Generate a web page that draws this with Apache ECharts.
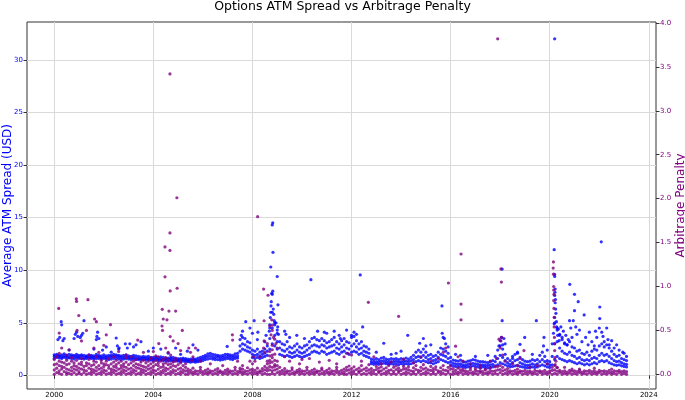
<!DOCTYPE html>
<html>
<head>
<meta charset="utf-8">
<script src="https://cdn.jsdelivr.net/npm/echarts@6/dist/echarts.min.js"></script>
<style>
  html, body { margin: 0; padding: 0; background: #fff; }
  #chart { width: 685px; height: 400px; }
</style>
</head>
<body>
<div id="chart"></div>
<script>
// tick labels
var yearTicks = [2000, 2004, 2008, 2012, 2016, 2020, 2024]
var spreadTicks = [0, 5, 10, 15, 20, 25, 30]
var penaltyTicks = [0, 0.5, 1, 1.5, 2, 2.5, 3, 3.5, 4]

// average ATM spread: main band, [year, value, value, ...]
var spreadBand = [
  [2000.0,1.6,1.8,1.95],[2000.1,1.7,1.85,2.0],[2000.2,1.65,1.8,1.9],[2000.3,1.6,1.75,1.95],[2000.4,1.7,1.85,2.05],
  [2000.5,1.6,1.8,1.9],[2000.6,1.65,1.75,2.0],[2000.7,1.6,1.8,1.95],[2000.8,1.55,1.75,1.9],[2000.9,1.65,1.8,2.0],
  [2001.0,1.6,1.75,1.9],[2001.1,1.6,1.8,1.95],[2001.2,1.55,1.7,1.9],[2001.3,1.6,1.75,1.85],[2001.4,1.65,1.8,1.95],
  [2001.5,1.6,1.75,1.9],[2001.6,1.55,1.7,1.85],[2001.7,1.6,1.8,2.0],[2001.8,1.6,1.75,1.9],[2001.9,1.55,1.7,1.85],
  [2002.0,1.6,1.75,1.95],[2002.1,1.55,1.7,1.85],[2002.2,1.5,1.7,1.9],[2002.3,1.55,1.75,1.9],[2002.4,1.6,1.8,2.0],
  [2002.5,1.6,1.8,1.95],[2002.6,1.55,1.75,1.9],[2002.7,1.5,1.7,1.85],[2002.8,1.55,1.7,1.9],[2002.9,1.6,1.75,1.95],
  [2003.0,1.55,1.7,1.85],[2003.1,1.5,1.65,1.8],[2003.2,1.55,1.7,1.9],[2003.3,1.5,1.65,1.85],[2003.4,1.5,1.6,1.8],
  [2003.5,1.45,1.6,1.75],[2003.6,1.5,1.65,1.8],[2003.7,1.45,1.6,1.75],[2003.8,1.5,1.6,1.8],[2003.9,1.45,1.55,1.7],
  [2004.0,1.4,1.55,1.7],[2004.1,1.45,1.6,1.75],[2004.2,1.4,1.55,1.7],[2004.3,1.45,1.55,1.75],[2004.4,1.4,1.5,1.7],
  [2004.5,1.4,1.55,1.65],[2004.6,1.35,1.5,1.65],[2004.7,1.4,1.55,1.7],[2004.8,1.35,1.5,1.7],[2004.9,1.4,1.5,1.65],
  [2005.0,1.35,1.45,1.6],[2005.1,1.3,1.45,1.6],[2005.2,1.35,1.5,1.65],[2005.3,1.3,1.45,1.6],[2005.4,1.3,1.4,1.55],
  [2005.5,1.25,1.4,1.55],[2005.6,1.3,1.45,1.6],[2005.7,1.25,1.4,1.55],[2005.8,1.3,1.45,1.65],[2005.9,1.35,1.5,1.7],
  [2006.0,1.4,1.6,1.8],[2006.1,1.5,1.7,1.9],[2006.2,1.55,1.8,2.05],[2006.3,1.6,1.85,2.1],[2006.4,1.55,1.75,2.0],
  [2006.5,1.5,1.7,1.95],[2006.6,1.5,1.75,1.9],[2006.7,1.45,1.65,1.85],[2006.8,1.5,1.7,1.9],[2006.9,1.55,1.75,2.0],
  [2007.0,1.6,1.8,2.0],[2007.1,1.55,1.75,1.95],[2007.2,1.5,1.7,1.9],[2007.3,1.6,1.8,2.05],[2007.4,1.65,1.85,2.1],
  [2007.5,2.3,2.8,3.4],[2007.6,2.5,3.0,3.6],[2007.7,2.4,2.9,3.5],[2007.8,2.3,2.7,3.2],[2007.9,2.2,2.6,3.1],
  [2008.0,1.7,2.0,2.4],[2008.1,1.6,1.9,2.3],[2008.2,1.7,2.0,2.5],[2008.3,1.6,1.85,2.2],[2008.4,1.7,2.0,2.3],
  [2008.5,1.8,2.1,2.5],[2008.6,1.9,2.3,2.8],[2008.7,2.5,3.5,4.5],[2008.8,3.0,4.5,6.0],[2008.9,2.8,3.8,5.0],
  [2009.0,2.5,3.2,4.0],[2009.1,2.0,2.6,3.2],[2009.2,1.9,2.4,3.0],[2009.3,1.8,2.3,2.9],[2009.4,1.9,2.5,3.2],
  [2009.5,1.8,2.2,2.7],[2009.6,1.7,2.1,2.6],[2009.7,1.8,2.2,2.8],[2009.8,1.9,2.4,3.0],[2009.9,1.8,2.2,2.7],
  [2010.0,1.7,2.1,2.6],[2010.1,1.8,2.2,2.8],[2010.2,1.9,2.4,2.9],[2010.3,2.0,2.6,3.2],[2010.4,2.2,2.8,3.5],
  [2010.5,2.3,2.9,3.6],[2010.6,2.2,2.8,3.4],[2010.7,2.1,2.7,3.3],[2010.8,2.3,2.9,3.5],[2010.9,2.2,2.8,3.3],
  [2011.0,2.0,2.6,3.1],[2011.1,2.1,2.7,3.2],[2011.2,2.2,2.8,3.4],[2011.3,2.3,2.9,3.6],[2011.4,2.1,2.6,3.2],
  [2011.5,2.0,2.5,3.0],[2011.6,2.2,2.7,3.3],[2011.7,2.3,2.9,3.5],[2011.8,2.1,2.6,3.2],[2011.9,2.0,2.5,3.1],
  [2012.0,2.2,2.8,3.6],[2012.1,2.3,3.0,3.7],[2012.2,2.2,2.7,3.3],[2012.3,2.0,2.5,3.0],[2012.4,2.1,2.6,3.2],
  [2012.5,1.9,2.3,2.8],[2012.6,1.8,2.2,2.7],[2012.7,1.7,2.1,2.5],[2012.8,1.1,1.3,1.55],[2012.9,1.05,1.25,1.5],
  [2013.0,1.1,1.3,1.6],[2013.1,1.05,1.25,1.5],[2013.2,1.1,1.35,1.65],[2013.3,1.15,1.4,1.7],[2013.4,1.1,1.3,1.55],
  [2013.5,1.05,1.25,1.5],[2013.6,1.1,1.3,1.6],[2013.7,1.05,1.3,1.55],[2013.8,1.1,1.35,1.6],[2013.9,1.0,1.25,1.5],
  [2014.0,1.1,1.3,1.6],[2014.1,1.05,1.3,1.55],[2014.2,1.1,1.35,1.65],[2014.3,1.05,1.3,1.55],[2014.4,1.1,1.4,1.7],
  [2014.5,1.2,1.5,1.9],[2014.6,1.3,1.7,2.2],[2014.7,1.4,1.8,2.4],[2014.8,1.3,1.7,2.2],[2014.9,1.4,1.9,2.5],
  [2015.0,1.3,1.7,2.2],[2015.1,1.2,1.5,1.9],[2015.2,1.2,1.6,2.0],[2015.3,1.1,1.4,1.8],[2015.4,1.2,1.5,1.9],
  [2015.5,1.3,1.7,2.2],[2015.6,1.5,2.0,2.6],[2015.7,1.4,1.9,2.5],[2015.8,1.3,1.8,2.3],[2015.9,1.2,1.6,2.1],
  [2016.0,1.0,1.3,1.7],[2016.1,0.9,1.15,1.45],[2016.2,0.85,1.1,1.4],[2016.3,0.8,1.05,1.35],[2016.4,0.85,1.1,1.45],
  [2016.5,0.8,1.0,1.3],[2016.6,0.75,0.95,1.25],[2016.7,0.8,1.05,1.35],[2016.8,0.85,1.1,1.4],[2016.9,0.9,1.15,1.5],
  [2017.0,0.85,1.1,1.45],[2017.1,0.8,1.05,1.35],[2017.2,0.75,1.0,1.3],[2017.3,0.8,1.0,1.3],[2017.4,0.75,0.95,1.25],
  [2017.5,0.7,0.95,1.2],[2017.6,0.75,1.0,1.3],[2017.7,0.8,1.05,1.4],[2017.8,0.9,1.3,1.8],[2017.9,1.0,1.6,2.4],
  [2018.0,1.2,1.9,2.8],[2018.1,1.1,1.7,2.5],[2018.2,1.0,1.4,2.0],[2018.3,0.9,1.2,1.6],[2018.4,0.8,1.05,1.4],
  [2018.5,0.85,1.2,1.6],[2018.6,0.9,1.4,2.0],[2018.7,0.95,1.5,2.1],[2018.8,0.85,1.2,1.7],[2018.9,0.8,1.1,1.5],
  [2019.0,0.75,1.0,1.35],[2019.1,0.7,0.95,1.3],[2019.2,0.75,1.0,1.35],[2019.3,0.8,1.1,1.5],[2019.4,0.75,1.0,1.4],
  [2019.5,0.8,1.1,1.5],[2019.6,0.9,1.3,1.9],[2019.7,1.0,1.5,2.2],[2019.8,0.9,1.3,1.8],[2019.9,0.8,1.1,1.4],
  [2020.0,0.75,1.0,1.3],[2020.1,1.0,1.8,3.0],[2020.2,1.5,3.0,5.0],[2020.3,1.8,3.2,4.5],[2020.4,1.6,2.6,3.8],
  [2020.5,1.5,2.3,3.4],[2020.6,1.4,2.1,3.0],[2020.7,1.3,2.0,2.9],[2020.8,1.4,2.2,3.2],[2020.9,1.3,1.9,2.7],
  [2021.0,1.2,1.8,2.6],[2021.1,1.1,1.6,2.3],[2021.2,1.2,1.7,2.4],[2021.3,1.1,1.5,2.1],[2021.4,1.0,1.4,2.0],
  [2021.5,1.1,1.5,2.2],[2021.6,1.0,1.4,1.9],[2021.7,1.1,1.6,2.3],[2021.8,1.2,1.7,2.5],[2021.9,1.1,1.6,2.4],
  [2022.0,1.3,1.9,2.8],[2022.1,1.4,2.1,3.0],[2022.2,1.3,1.9,2.7],[2022.3,1.4,2.0,2.9],[2022.4,1.2,1.8,2.6],
  [2022.5,1.1,1.6,2.3],[2022.6,1.0,1.4,2.0],[2022.7,0.95,1.3,1.8],[2022.8,1.0,1.35,1.9],[2022.9,0.9,1.2,1.6],
  [2023.0,0.85,1.1,1.5],[2023.1,0.8,1.05,1.4]
]

// average ATM spread: scattered points away from the band, [year, value]
var spreadExtra = [
  [2000.15,3.4],[2000.22,3.6],[2000.28,5.1],[2000.3,4.8],[2000.35,3.3],[2000.4,3.5],[2000.6,2.4],
  [2000.8,3.5],[2000.85,3.9],[2000.9,4.1],[2000.95,3.7],[2001.05,3.6],[2001.1,3.8],[2001.15,4.0],[2001.2,5.2],
  [2001.6,2.5],[2001.7,3.4],[2001.72,3.7],[2001.75,4.1],[2001.8,3.5],[2001.95,2.4],[2002.1,2.7],[2002.3,2.2],
  [2002.5,3.55],[2002.55,2.8],[2002.6,2.5],[2002.62,2.6],[2002.87,3.0],[2002.95,2.6],[2003.05,3.0],[2003.2,2.7],
  [2003.3,2.9],[2003.5,3.2],[2003.8,2.3],[2004.0,2.6],[2004.3,2.5],[2004.6,2.1],[2004.9,2.6],[2005.1,2.0],
  [2005.37,2.3],[2005.6,2.9],[2005.8,2.4],[2006.98,2.75],[2007.55,3.8],[2007.6,4.2],[2007.73,5.1],[2007.9,4.5],
  [2008.0,4.0],[2008.07,5.2],[2008.2,3.4],[2008.22,4.1],[2008.5,3.2],[2008.55,3.8],
  [2008.68,4.2],[2008.7,4.8],[2008.72,5.5],[2008.74,6.0],[2008.75,6.6],[2008.76,7.0],[2008.78,7.8],[2008.8,7.7],
  [2008.82,8.0],[2008.84,6.3],[2008.86,5.8],[2008.88,5.2],[2008.9,4.8],[2009.03,6.7],[2008.95,5.0],[2009.0,4.3],
  [2009.02,4.6],[2009.05,3.9],[2009.0,9.4],[2008.74,10.3],[2008.83,11.7],[2008.8,14.3],[2008.82,14.5],
  [2009.3,4.2],[2009.35,3.9],[2009.5,3.6],[2009.79,3.8],[2010.1,3.5],[2010.36,9.1],[2010.63,4.2],[2010.9,4.1],
  [2011.0,4.0],[2011.3,4.2],[2011.5,3.8],[2011.55,3.5],[2011.8,4.3],[2012.0,3.8],[2012.1,4.1],[2012.2,3.9],
  [2012.35,9.55],[2012.45,4.6],[2013.0,2.2],[2013.3,3.05],[2013.6,2.0],[2013.8,2.1],[2014.0,2.3],[2014.27,3.8],
  [2014.75,3.05],[2014.9,3.5],[2015.0,2.8],[2015.2,2.9],[2015.65,6.6],[2015.66,4.0],[2015.7,3.6],[2015.75,3.5],
  [2015.8,3.0],[2015.9,2.7],[2016.2,2.0],[2016.4,1.9],[2017.0,1.8],[2017.5,1.9],[2017.95,2.8],[2018.0,3.3],
  [2018.05,3.6],[2018.08,10.1],[2018.08,5.2],[2018.1,2.9],[2018.15,3.5],[2018.2,3.0],[2018.5,1.8],[2018.7,2.2],
  [2018.8,2.95],[2018.99,3.6],[2019.3,2.0],[2019.46,5.2],[2019.75,2.8],[2019.77,3.6],[2019.9,2.4],
  [2020.2,32.0],[2020.18,11.95],[2020.2,9.6],[2020.2,9.4],[2020.22,8.2],[2020.21,7.9],[2020.2,7.6],[2020.23,7.2],
  [2020.22,6.9],[2020.24,6.3],[2020.25,5.9],[2020.2,5.5],[2020.27,5.1],[2020.18,4.9],[2020.28,4.6],[2020.3,4.3],
  [2020.15,4.0],[2020.32,3.8],[2020.35,4.4],[2020.4,3.9],[2020.38,3.3],[2020.45,4.6],[2020.5,3.6],[2020.55,4.2],
  [2020.6,3.1],[2020.65,3.8],[2020.7,2.9],[2020.75,3.4],[2020.81,8.65],[2020.8,5.2],[2020.95,5.2],[2020.85,4.5],
  [2020.9,3.6],[2021.0,7.7],[2021.0,6.15],[2021.05,4.6],[2021.1,3.9],[2021.15,7.0],[2021.2,4.3],[2021.3,3.2],
  [2021.39,5.74],[2021.45,3.6],[2021.55,2.9],[2021.6,4.1],[2021.7,3.2],[2021.8,2.8],[2021.85,4.2],[2021.9,3.6],
  [2022.02,6.5],[2022.02,5.4],[2022.0,4.5],[2022.08,12.7],[2022.1,4.1],[2022.15,3.7],[2022.2,3.2],[2022.3,4.5],
  [2022.35,3.4],[2022.4,2.9],[2022.5,3.3],[2022.6,2.6],[2022.7,2.9],[2022.8,2.4],[2022.95,2.2],[2023.0,2.1],[2023.1,1.8]
]

// arbitrage penalty: main band near zero, [year, value, value, ...]
var penaltyBand = [
  [2000.0,0.0,0.05,0.11,0.17],[2000.1,0.02,0.07,0.12,0.2],[2000.2,0.01,0.04,0.1,0.15,0.24],[2000.3,0.0,0.06,0.09,0.14],
  [2000.4,0.03,0.08,0.13],[2000.5,0.0,0.02,0.06,0.11,0.16],[2000.6,0.01,0.05,0.12],[2000.7,0.0,0.04,0.08,0.15,0.19],
  [2000.8,0.02,0.06,0.1,0.13],[2000.9,0.0,0.05,0.09,0.16],[2001.0,0.01,0.03,0.07,0.12],[2001.1,0.0,0.06,0.11,0.14,0.18],
  [2001.2,0.02,0.05,0.09],[2001.3,0.0,0.04,0.1,0.13],[2001.4,0.01,0.07,0.12,0.17],[2001.5,0.0,0.03,0.06,0.1],
  [2001.6,0.02,0.05,0.11,0.15],[2001.7,0.0,0.04,0.08,0.14,0.2],[2001.8,0.01,0.06,0.1],[2001.9,0.0,0.03,0.07,0.13,0.16],
  [2002.0,0.02,0.05,0.09,0.12],[2002.1,0.0,0.04,0.11,0.15],[2002.2,0.01,0.07,0.1,0.18],[2002.3,0.0,0.03,0.06,0.12],
  [2002.4,0.02,0.05,0.09,0.14],[2002.5,0.0,0.04,0.08,0.11,0.16],[2002.6,0.01,0.06,0.13],[2002.7,0.0,0.03,0.07,0.1,0.15],
  [2002.8,0.02,0.05,0.09,0.12],[2002.9,0.0,0.04,0.08,0.14,0.19],[2003.0,0.01,0.06,0.11],[2003.1,0.0,0.03,0.07,0.13],
  [2003.2,0.02,0.05,0.1,0.15],[2003.3,0.0,0.04,0.08,0.12,0.17],[2003.4,0.01,0.07,0.11],[2003.5,0.0,0.03,0.06,0.1,0.14],
  [2003.6,0.02,0.05,0.09,0.16],[2003.7,0.0,0.04,0.08,0.13],[2003.8,0.01,0.06,0.1,0.15],[2003.9,0.0,0.03,0.07,0.12,0.18],
  [2004.0,0.02,0.05,0.09,0.14],[2004.1,0.0,0.04,0.11,0.16],[2004.2,0.01,0.06,0.1,0.13,0.2],[2004.3,0.0,0.03,0.08,0.15],
  [2004.4,0.02,0.05,0.09,0.12,0.17],[2004.5,0.0,0.04,0.07,0.13,0.19],[2004.6,0.01,0.06,0.11,0.16],[2004.7,0.0,0.03,0.08,0.12,0.22],
  [2004.8,0.02,0.05,0.1,0.14],[2004.9,0.0,0.04,0.09,0.15,0.18],[2005.0,0.01,0.06,0.11],[2005.1,0.0,0.03,0.07,0.13,0.16],
  [2005.2,0.02,0.05,0.1],[2005.3,0.0,0.04,0.08,0.12],
  [2005.4,0.0,0.03,0.06],[2005.5,0.015,0.045],[2005.6,0.0,0.025,0.07],[2005.7,0.01,0.04],[2005.8,0.0,0.035],
  [2005.9,0.02,0.05,0.08],[2006.0,0.0,0.03],[2006.1,0.01,0.045],[2006.2,0.0,0.025,0.06],[2006.3,0.015,0.04],
  [2006.4,0.0,0.035],[2006.5,0.01,0.05],[2006.6,0.0,0.03,0.065],[2006.7,0.02,0.04],[2006.8,0.0,0.025],
  [2006.9,0.01,0.045],[2007.0,0.0,0.03,0.06],[2007.1,0.015,0.04],[2007.2,0.0,0.035],[2007.3,0.01,0.05,0.08],
  [2007.4,0.0,0.03],[2007.5,0.02,0.045,0.07],[2007.6,0.0,0.025,0.06],[2007.7,0.01,0.04],[2007.8,0.0,0.035,0.075],
  [2007.9,0.015,0.05],[2008.0,0.0,0.03,0.06],[2008.1,0.01,0.045],[2008.2,0.0,0.025,0.07],[2008.3,0.02,0.04],
  [2008.4,0.0,0.035,0.065],[2008.5,0.01,0.05,0.09],[2008.6,0.0,0.04,0.07,0.12,0.15],
  [2008.7,0.0,0.05,0.09,0.13,0.16,0.21,0.26],[2008.8,0.01,0.04,0.08,0.14,0.19,0.22,0.28,0.33],
  [2008.9,0.0,0.05,0.09,0.11,0.16,0.23],[2009.0,0.02,0.06,0.1,0.15],[2009.1,0.0,0.03,0.08],
  [2009.2,0.01,0.045],[2009.3,0.0,0.03,0.065],[2009.4,0.015,0.04],[2009.5,0.0,0.035],[2009.6,0.01,0.05,0.075],
  [2009.7,0.0,0.025],[2009.8,0.02,0.045],[2009.9,0.0,0.03,0.06],[2010.0,0.01,0.04],[2010.1,0.0,0.035],
  [2010.2,0.015,0.05,0.08],[2010.3,0.0,0.03],[2010.4,0.01,0.045],[2010.5,0.0,0.025,0.06],[2010.6,0.02,0.04],
  [2010.7,0.0,0.035],[2010.8,0.01,0.05,0.07],[2010.9,0.0,0.03],[2011.0,0.015,0.045],[2011.1,0.0,0.025,0.065],
  [2011.2,0.01,0.04],[2011.3,0.0,0.035],[2011.4,0.02,0.05,0.08],[2011.5,0.0,0.03],[2011.6,0.01,0.045],
  [2011.7,0.0,0.025,0.06],[2011.8,0.0,0.045,0.08],[2011.9,0.015,0.05,0.095],[2012.0,0.0,0.03,0.065],
  [2012.1,0.01,0.04,0.085],[2012.2,0.0,0.055],[2012.3,0.02,0.035,0.07],[2012.4,0.0,0.045,0.1],[2012.5,0.01,0.06],
  [2012.6,0.0,0.04,0.075],[2012.7,0.015,0.05,0.11],[2012.8,0.0,0.03,0.065],[2012.9,0.01,0.045],[2013.0,0.0,0.055,0.09],
  [2013.1,0.02,0.035,0.07],[2013.2,0.0,0.04,0.085],[2013.3,0.01,0.06],[2013.4,0.0,0.03,0.075],[2013.5,0.015,0.045,0.1],
  [2013.6,0.0,0.05],[2013.7,0.01,0.035,0.08],[2013.8,0.0,0.055,0.095],[2013.9,0.02,0.04,0.07],[2014.0,0.0,0.045],
  [2014.1,0.01,0.06,0.09],[2014.2,0.0,0.03,0.065],[2014.3,0.015,0.05,0.085],[2014.4,0.0,0.04],[2014.5,0.01,0.035,0.075],
  [2014.6,0.0,0.055,0.1],[2014.7,0.02,0.045],[2014.8,0.0,0.04,0.08],[2014.9,0.01,0.06,0.11],[2015.0,0.0,0.03,0.07],
  [2015.1,0.015,0.05],[2015.2,0.0,0.045,0.09],[2015.3,0.01,0.035,0.065],[2015.4,0.0,0.055,0.085],[2015.5,0.02,0.04],
  [2015.6,0.0,0.03,0.075],[2015.7,0.01,0.05,0.1],[2015.8,0.0,0.045],[2015.9,0.015,0.04,0.08],[2016.0,0.0,0.06,0.095],
  [2016.1,0.0,0.03,0.065],[2016.2,0.01,0.045],[2016.3,0.0,0.025,0.07],[2016.4,0.02,0.05],[2016.5,0.0,0.035,0.06],
  [2016.6,0.01,0.04],[2016.7,0.0,0.03],[2016.8,0.015,0.05,0.075],[2016.9,0.0,0.025],[2017.0,0.01,0.045,0.065],
  [2017.1,0.0,0.035],[2017.2,0.02,0.04,0.07],[2017.3,0.0,0.03],[2017.4,0.01,0.05,0.06],[2017.5,0.0,0.025],
  [2017.6,0.015,0.045,0.075],[2017.7,0.0,0.035],[2017.8,0.01,0.04,0.085],[2017.9,0.0,0.05,0.09],[2018.0,0.02,0.055,0.1],
  [2018.1,0.0,0.04,0.08],[2018.2,0.01,0.05],[2018.3,0.0,0.03,0.065],[2018.4,0.015,0.04],[2018.5,0.0,0.035],
  [2018.6,0.01,0.045],[2018.7,0.0,0.025,0.06],[2018.8,0.02,0.04],[2018.9,0.0,0.035],[2019.0,0.01,0.045],
  [2019.1,0.0,0.03],[2019.2,0.015,0.04],[2019.3,0.0,0.025],[2019.4,0.01,0.045],[2019.5,0.0,0.035],
  [2019.6,0.02,0.04],[2019.7,0.0,0.03],[2019.8,0.01,0.045],[2019.9,0.0,0.025],[2020.0,0.015,0.04],
  [2020.1,0.0,0.045,0.08],[2020.2,0.01,0.05,0.1],[2020.3,0.0,0.035,0.075],[2020.4,0.02,0.045],[2020.5,0.0,0.03],
  [2020.6,0.01,0.04],[2020.7,0.0,0.025],[2020.8,0.015,0.045],[2020.9,0.0,0.035],[2021.0,0.01,0.04],
  [2021.1,0.0,0.03],[2021.2,0.02,0.045],[2021.3,0.0,0.025],[2021.4,0.01,0.04],[2021.5,0.0,0.035],
  [2021.6,0.015,0.045],[2021.7,0.0,0.03],[2021.8,0.01,0.04],[2021.9,0.0,0.025],[2022.0,0.02,0.045],
  [2022.1,0.0,0.035],[2022.2,0.01,0.04],[2022.3,0.0,0.03],[2022.4,0.015,0.045],[2022.5,0.0,0.025],
  [2022.6,0.01,0.04],[2022.7,0.0,0.035],[2022.8,0.02,0.045],[2022.9,0.0,0.03],[2023.0,0.01,0.04],[2023.1,0.0,0.03]
]

// arbitrage penalty: scattered points above the band, [year, value]
var penaltyExtra = [
  [2000.1,0.2],[2000.18,0.75],[2000.2,0.47],[2000.3,0.3],[2000.5,0.22],[2000.6,0.28],[2000.89,0.86],[2000.9,0.83],
  [2000.92,0.5],[2000.99,0.67],[2001.1,0.38],[2001.3,0.5],[2001.36,0.85],[2001.4,0.22],[2001.6,0.3],[2001.63,0.63],
  [2001.7,0.6],[2001.8,0.25],[2002.0,0.33],[2002.1,0.45],[2002.27,0.565],[2002.4,0.2],[2002.6,0.26],[2002.9,0.22],
  [2003.1,0.2],[2003.37,0.39],[2003.6,0.25],[2003.9,0.19],[2004.0,0.26],[2004.1,0.21],[2004.22,0.35],[2004.35,0.55],
  [2004.36,0.74],[2004.37,0.5],[2004.4,0.63],[2004.47,1.11],[2004.47,1.45],[2004.5,0.3],[2004.55,0.62],[2004.6,0.25],
  [2004.63,0.72],[2004.67,1.41],[2004.67,1.61],[2004.67,3.42],[2004.68,0.95],[2004.68,0.43],[2004.8,0.38],
  [2004.9,0.72],[2004.95,2.01],[2004.96,0.98],[2005.0,0.35],[2005.1,0.27],[2005.17,0.5],
  [2005.43,0.3],[2005.5,0.25],[2005.55,0.16],[2005.6,0.2],[2005.7,0.3],[2005.9,0.15],[2006.3,0.12],[2006.8,0.1],
  [2007.19,0.45],[2007.2,0.39],[2007.4,0.15],[2007.6,0.1],[2007.9,0.15],[2008.0,0.12],[2008.05,0.2],[2008.1,0.15],
  [2008.21,1.795],[2008.3,0.2],[2008.45,0.97],[2008.45,0.3],[2008.47,0.61],[2008.47,0.38],[2008.5,0.25],
  [2008.6,0.35],[2008.63,0.9],[2008.7,0.55],[2008.75,0.45],[2008.78,0.62],[2008.8,0.5],[2008.8,0.56],
  [2008.85,0.42],[2008.9,0.4],[2008.95,0.35],[2009.0,0.3],
  [2009.3,0.2],[2009.5,0.15],[2009.9,0.12],[2010.0,0.17],[2010.3,0.18],[2010.7,0.14],[2011.1,0.16],[2011.4,0.12],
  [2011.7,0.2],[2011.85,0.24],[2012.0,0.22],[2012.4,0.15],[2012.68,0.82],[2012.9,0.2],[2013.2,0.12],[2013.6,0.14],
  [2013.9,0.66],[2014.1,0.17],[2014.5,0.13],[2014.8,0.2],[2015.2,0.15],[2015.5,0.18],[2015.7,0.25],[2015.8,0.3],
  [2015.91,1.04],[2016.2,0.32],[2016.3,0.2],[2016.42,1.37],[2016.42,0.8],[2016.42,0.62],[2016.5,0.15],
  [2016.8,0.12],[2017.2,0.1],[2017.6,0.15],[2017.85,0.18],[2017.9,3.82],[2017.95,0.4],[2018.0,0.3],
  [2018.03,1.2],[2018.03,0.38],[2018.05,1.05],[2018.06,0.42],[2018.1,0.22],[2018.2,0.15],[2018.5,0.12],
  [2018.7,0.1],[2018.8,0.18],[2018.96,0.27],[2019.2,0.08],[2019.5,0.1],[2019.9,0.12],
  [2020.14,1.21],[2020.15,1.28],[2020.15,1.14],[2020.16,1.0],[2020.16,0.96],[2020.17,0.91],[2020.16,0.84],
  [2020.17,0.75],[2020.18,0.65],[2020.18,0.54],[2020.19,0.42],[2020.2,0.35],[2020.2,0.27],[2020.21,0.19],
  [2020.22,0.11],[2020.25,0.15],[2020.3,0.08],[2020.6,0.08],[2020.9,0.06],[2021.2,0.06],[2021.8,0.07],[2022.5,0.06]
]

function flattenRows (rows) {
  var out = []
  rows.forEach(function (r) {
    for (var i = 1; i < r.length; i++) {
      out.push([r[0], r[i]])
    }
  })
  return out
}

var font = 'DejaVu Sans'
var chart = echarts.init(document.getElementById('chart'))

chart.setOption({
  animation: false,
  textStyle: { fontFamily: font },
  title: {
    text: 'Options ATM Spread vs Arbitrage Penalty',
    left: 'center',
    top: 0,
    padding: 0,
    textStyle: { fontFamily: font, fontSize: 12.5, fontWeight: 'normal', color: '#000' }
  },
  grid: {
    left: 27, right: 29, top: 22, bottom: 11,
    containLabel: false,
    outerBoundsMode: 'none',
    show: true, borderColor: '#333', borderWidth: 1
  },
  xAxis: {
    type: 'value',
    min: 1998.9,
    max: 2024.29,
    axisLine: { show: false },
    axisTick: { show: true, length: 3.5, lineStyle: { color: '#333' }, customValues: yearTicks },
    axisLabel: {
      customValues: yearTicks,
      fontSize: 7, color: '#000', margin: 3,
      formatter: function (v) { return String(Math.round(v)) }
    },
    splitLine: { show: true, lineStyle: { color: '#dadada', width: 1 } }
  },
  yAxis: [
    {
      type: 'value',
      position: 'left',
      min: -1.3,
      max: 33.6,
      name: 'Average ATM Spread (USD)',
      nameLocation: 'middle',
      nameGap: 13,
      nameRotate: 90,
      nameMoveOverlap: false,
      nameTextStyle: { color: 'blue', fontSize: 12, fontFamily: font },
      axisLine: { show: false },
      axisTick: { show: true, length: 3.5, lineStyle: { color: '#333' }, customValues: spreadTicks },
      axisLabel: { customValues: spreadTicks, fontSize: 7, color: 'blue', margin: 4 },
      splitLine: { show: true, lineStyle: { color: '#dadada', width: 1 } }
    },
    {
      type: 'value',
      position: 'right',
      min: -0.167,
      max: 4.011,
      name: 'Arbitrage Penalty',
      nameLocation: 'middle',
      nameGap: 19,
      nameRotate: 90,
      nameMoveOverlap: false,
      nameTextStyle: { color: 'purple', fontSize: 12, fontFamily: font },
      axisLine: { show: false },
      axisTick: { show: true, length: 3.5, lineStyle: { color: '#333' }, customValues: penaltyTicks },
      axisLabel: {
        customValues: penaltyTicks, fontSize: 7, color: 'purple', margin: 4,
        formatter: function (v) { return v.toFixed(1) }
      },
      splitLine: { show: false }
    }
  ],
  series: [
    {
      name: 'Average ATM Spread',
      type: 'scatter',
      yAxisIndex: 0,
      symbol: 'circle',
      symbolSize: 3.2,
      itemStyle: { color: 'blue' },
      data: flattenRows(spreadBand).concat(spreadExtra)
    },
    {
      name: 'Arbitrage Penalty',
      type: 'scatter',
      yAxisIndex: 1,
      symbol: 'circle',
      symbolSize: 3.2,
      itemStyle: { color: 'purple' },
      data: flattenRows(penaltyBand).concat(penaltyExtra)
    }
  ]
})
</script>
</body>
</html>
